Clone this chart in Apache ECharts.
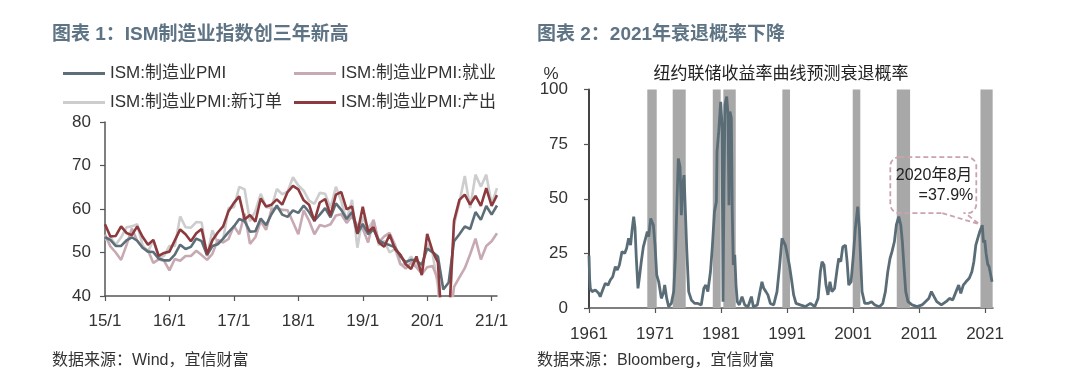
<!DOCTYPE html>
<html><head><meta charset="utf-8">
<script src="https://cdn.jsdelivr.net/npm/echarts@6/dist/echarts.min.js"></script>
<style>html,body{margin:0;padding:0;background:#fff}#c{width:1080px;height:383px}</style>
</head><body><div id="c"></div>
<script>
// ---------- Left chart: ISM manufacturing (monthly, 2015/1 - 2021/2) ----------
const ismMonths = [];
for (let y = 15; y <= 21; y++) for (let m = 1; m <= 12; m++) { if (y === 21 && m > 2) break; ismMonths.push(y + '/' + m); }
const pmi = [53.5,52.9,51.5,51.5,52.8,53.5,52.7,51.1,50.2,50.1,48.6,48.2,
  48.2,49.5,51.8,50.8,51.3,53.2,52.6,49.4,51.5,51.9,53.2,54.7,
  56.0,57.7,57.2,54.8,54.9,57.8,56.3,58.8,60.8,58.7,58.2,59.7,
  59.1,60.8,59.3,57.3,58.7,60.2,58.1,61.3,59.8,57.7,59.3,54.3,
  56.6,54.2,55.3,52.8,52.1,51.7,51.2,49.1,47.8,48.3,48.1,47.2,
  50.9,50.1,49.1,41.5,43.1,52.6,54.2,56.0,55.4,59.3,57.5,60.7,
  58.7,60.8];
const employment = [54.1,51.4,50.0,48.3,51.7,55.5,52.7,51.2,50.5,47.6,48.4,48.1,
  45.9,48.5,48.1,49.2,49.2,50.4,49.4,48.3,49.7,52.9,52.3,53.1,
  56.1,54.2,58.9,52.0,53.5,57.2,55.2,59.9,60.3,59.8,59.7,57.0,
  54.2,59.7,57.3,54.2,56.3,56.0,56.5,58.5,58.8,56.8,58.4,56.2,
  55.5,52.3,57.5,52.4,53.7,54.5,51.7,47.4,46.3,47.7,46.6,45.1,
  46.6,46.9,43.8,27.5,32.1,42.1,44.3,46.4,49.6,53.2,48.4,51.5,
  52.6,54.4];
const newOrders = [52.9,53.5,51.8,53.5,55.8,56.0,56.5,51.7,50.1,52.9,48.9,49.2,
  51.5,51.5,58.3,55.8,55.7,57.0,56.9,49.1,55.1,52.1,53.0,60.2,
  60.4,65.1,64.5,57.2,59.5,63.5,60.4,60.3,64.6,63.4,64.0,67.3,
  65.4,64.2,61.9,61.2,63.7,63.5,60.2,65.1,61.8,57.4,62.1,51.1,
  58.2,55.5,57.4,51.7,52.7,50.0,50.8,47.2,47.3,49.1,47.2,46.8,
  52.0,49.8,42.2,27.1,31.8,56.4,61.5,67.6,60.2,67.9,65.1,67.9,
  61.1,64.8];
const production = [56.5,53.7,53.8,56.0,54.5,54.0,56.0,53.6,51.8,52.9,49.2,49.9,
  50.2,52.8,55.3,54.2,52.6,54.4,55.4,49.6,52.8,54.6,56.0,59.5,
  61.4,62.9,57.6,58.6,57.1,62.4,60.6,61.0,62.2,61.0,63.9,65.3,
  64.5,62.0,61.0,57.2,61.5,62.3,58.5,63.3,63.9,59.9,60.6,54.3,
  60.5,54.8,55.8,52.3,51.3,54.1,50.8,49.5,47.3,46.2,49.1,44.8,
  54.3,50.3,47.7,27.5,33.2,57.3,62.1,63.3,61.0,63.0,60.7,64.8,
  60.7,63.2];
const ismNames = ['ISM:制造业PMI','ISM:制造业PMI:就业','ISM:制造业PMI:新订单','ISM:制造业PMI:产出'];

// ---------- Right chart: NY Fed recession probability ----------
const recYears = [1961.0,1961.1,1961.2,1961.45,1961.96,1962.47,1962.7,1963.07,1963.47,1963.88,1964.23,1964.59,1964.99,1965.29,1965.6,1966.0,1966.4,1966.7,1967.0,1967.3,1967.5,1967.77,1967.97,1968.17,1968.42,1968.62,1968.92,1969.23,1969.53,1969.84,1970.04,1970.35,1970.55,1970.75,1971.0,1971.26,1971.56,1971.96,1972.26,1972.47,1972.77,1973.07,1973.47,1973.83,1974.08,1974.33,1974.53,1974.79,1974.99,1975.2,1975.4,1975.6,1975.8,1976.1,1976.5,1977.0,1977.5,1978.0,1978.4,1978.7,1979.0,1979.4,1979.7,1980.0,1980.3,
  1980.39,1980.65,1980.95,1981.15,1981.3,1981.45,1981.6,1981.86,1982.06,1982.2,1982.36,1982.56,1982.7,1982.86,1983.08,1983.27,1983.47,1983.77,1984.18,1984.59,1985.09,1985.6,1985.9,1986.5,1986.9,1987.2,1987.47,1987.8,1988.1,1988.47,1988.98,1989.48,1989.89,1990.24,1990.5,1990.74,1991.05,1991.35,1991.65,1992.0,1992.36,1993.0,1993.77,1994.53,1995.2,1995.7,1996.05,1996.3,1996.6,1996.9,1997.2,1997.5,1997.8,1998.2,1998.6,1998.83,1999.14,1999.44,
  1999.6,1999.85,2000.1,2000.35,2000.7,2001.05,2001.35,2001.71,2001.96,2002.17,2002.36,2002.77,2003.27,2003.8,2004.3,2005.0,2005.5,2005.9,2006.26,2006.6,2006.9,2007.26,2007.56,2007.92,2008.23,2008.47,2008.73,2008.98,2009.33,2009.94,2010.7,2011.45,2011.96,2012.47,2012.87,2013.27,2013.68,2014.38,2015.09,2015.6,2016.1,2016.6,2017.0,2017.32,2017.7,2018.1,2018.6,2019.0,2019.3,2019.6,2019.9,2020.2,2020.58,2020.75,2020.95,2021.15,2021.4,2021.6,2021.8,2022.05];
const recProb = [24,13,9,7.5,8.2,6.7,5.2,8.2,11.3,10.5,12.8,14.3,18.9,17.4,19.7,25.8,25,27.3,31.9,28.8,35,41.8,36.5,22.7,9,13.6,21.2,28,28.8,35,32.7,41,41.8,38,28.8,15.1,12,4.4,6.7,10.5,4.4,0.6,2.1,7.5,22.7,48.6,68.4,64.6,42.5,56.3,60.8,44,27.3,7.5,3.7,2.1,2.1,1.4,9,10.5,7.5,16.6,28.8,44,48.6,
  71.5,80.7,94.4,84,2.9,56,93,96.8,88.4,47,89.9,86.9,44,19.7,24.3,10.5,2.9,1.4,5.2,1.4,0.6,5.2,0.6,1.4,7.5,12,9,7.5,6,2.1,1.4,7.5,19.7,31.9,32.7,28.8,24.3,19.7,13.6,6,2.1,1.4,0.6,2.1,0.6,4.4,16.6,21.2,19.7,10.5,6,12,7.5,9,18.1,22.7,21.2,28,
  27.3,28.8,21.2,10.5,12,24.3,36.5,46.4,36.5,21.2,7.5,2.1,2.1,2.9,1.4,0.6,2.1,7.5,16.6,22.7,25.8,30.3,38,41.8,38,30.3,18.1,7.5,2.9,1.4,0.6,1.4,2.9,4.4,7.5,5.2,2.9,1.4,2.9,4.4,3.7,7.5,10.5,6.7,10.5,12,13.6,16.6,21.2,28.8,32,35,37.9,30,31,25,20,19,16,12];
const recessions = [[1969.83,1971.26],[1973.68,1975.65],[1979.75,1980.95],[1981.35,1983.23],[1990.29,1991.45],[2000.95,2002.1],[2007.62,2009.64],[2020.3,2022.15]];
const recXTicks = [1961,1971,1981,1991,2001,2011,2021];
const peakPoint = [2020.58, 37.9];

const FF = "'Liberation Sans','Noto Sans CJK SC',sans-serif";
const C_PMI = '#5c6f79', C_EMP = '#c7a9b1', C_NEW = '#cdcdcd', C_PRO = '#8c3a3e';

const chart = echarts.init(document.getElementById('c'), null, {renderer: 'canvas'});
const legendBase = {orient: 'horizontal', icon: 'rect', itemWidth: 42, itemHeight: 3, padding: 0,
  textStyle: {fontFamily: FF, fontSize: 17, color: '#333'}, selectedMode: false};

const option = {
  animation: false,
  backgroundColor: '#fff',
  textStyle: {fontFamily: FF},
  title: [
    {text: '图表 1：ISM制造业指数创三年新高', left: 47, top: 20, textStyle: {fontFamily: FF, fontSize: 19, fontWeight: 'bold', color: '#5e7484'}},
    {text: '图表 2：2021年衰退概率下降', left: 532, top: 20, textStyle: {fontFamily: FF, fontSize: 19, fontWeight: 'bold', color: '#5e7484'}},
    {text: '纽约联储收益率曲线预测衰退概率', left: 776, textAlign: 'center', top: 61, textStyle: {fontFamily: FF, fontSize: 17, fontWeight: 'normal', color: '#222'}},
    {text: '%', left: 546, textAlign: 'center', top: 61, textStyle: {fontFamily: FF, fontSize: 17, fontWeight: 'normal', color: '#333'}},
    {text: '数据来源：Wind，宜信财富', left: 47, top: 348, textStyle: {fontFamily: FF, fontSize: 16, fontWeight: 'normal', color: '#333'}},
    {text: '数据来源：Bloomberg，宜信财富', left: 532, top: 348, textStyle: {fontFamily: FF, fontSize: 16, fontWeight: 'normal', color: '#333'}}
  ],
  legend: [
    Object.assign({}, legendBase, {data: [ismNames[0]], left: 63, top: 65}),
    Object.assign({}, legendBase, {data: [ismNames[1]], left: 294, top: 65}),
    Object.assign({}, legendBase, {data: [ismNames[2]], left: 63, top: 94}),
    Object.assign({}, legendBase, {data: [ismNames[3]], left: 294, top: 94})
  ],
  grid: [
    {left: 105, top: 122, width: 392, height: 174},
    {left: 589, top: 89.5, width: 404, height: 218.5}
  ],
  xAxis: [
    {gridIndex: 0, type: 'category', data: ismMonths, boundaryGap: false,
      axisLine: {lineStyle: {color: '#555', width: 1.5}},
      axisTick: {interval: (i) => i % 12 === 0, length: 5, lineStyle: {color: '#555', width: 1.2}},
      axisLabel: {interval: (i) => i % 12 === 0, fontSize: 17, color: '#333', margin: 17, fontFamily: FF}},
    {gridIndex: 1, type: 'value', min: 1961, max: 2022.2, splitLine: {show: false},
      axisLine: {onZero: false, lineStyle: {color: '#555', width: 1.5}},
      axisTick: {customValues: recXTicks, length: 5, lineStyle: {color: '#555', width: 1.2}},
      axisLabel: {customValues: recXTicks, fontSize: 17, color: '#333', margin: 18, fontFamily: FF, formatter: (v) => String(v)}}
  ],
  yAxis: [
    {gridIndex: 0, type: 'value', min: 40, max: 80, interval: 10, splitLine: {show: false},
      axisLine: {show: true, lineStyle: {color: '#555', width: 1.5}},
      axisTick: {show: true, length: 5, lineStyle: {color: '#555', width: 1.2}},
      axisLabel: {fontSize: 17, color: '#333', margin: 14, fontFamily: FF}},
    {gridIndex: 1, type: 'value', min: 0, max: 100, interval: 25, splitLine: {show: false},
      axisLine: {show: true, lineStyle: {color: '#444', width: 2}},
      axisTick: {show: true, length: 5, lineStyle: {color: '#555', width: 1.2}},
      axisLabel: {fontSize: 17, color: '#333', margin: 21, fontFamily: FF}}
  ],
  series: [
    {name: ismNames[2], type: 'line', xAxisIndex: 0, yAxisIndex: 0, data: newOrders, symbol: 'none', color: C_NEW, lineStyle: {width: 2.6, color: C_NEW}},
    {name: ismNames[1], type: 'line', xAxisIndex: 0, yAxisIndex: 0, data: employment, symbol: 'none', color: C_EMP, lineStyle: {width: 2.6, color: C_EMP}},
    {name: ismNames[0], type: 'line', xAxisIndex: 0, yAxisIndex: 0, data: pmi, symbol: 'none', color: C_PMI, lineStyle: {width: 2.6, color: C_PMI}},
    {name: ismNames[3], type: 'line', xAxisIndex: 0, yAxisIndex: 0, data: production, symbol: 'none', color: C_PRO, lineStyle: {width: 2.6, color: C_PRO}},
    {name: 'recession', type: 'line', xAxisIndex: 1, yAxisIndex: 1, data: [], z: 1, silent: true,
      markArea: {silent: true, itemStyle: {color: '#a8a8a8'},
        data: recessions.map(r => [{xAxis: r[0]}, {xAxis: r[1]}])}},
    {name: 'prob', type: 'line', xAxisIndex: 1, yAxisIndex: 1, z: 3, symbol: 'none',
      data: recYears.map((y, i) => [y, recProb[i]]),
      lineStyle: {width: 2.8, color: '#5a6d77'}}
  ]
};
chart.setOption(option);

// callout annotation anchored to the peak data point
const p = chart.convertToPixel({xAxisIndex: 1, yAxisIndex: 1}, peakPoint);
const L = p[0] - 92, T = p[1] - 68, W = 86, H = 56, R = L + W, B = T + H;
const a = L + 52, b = L + 75;
const tip = [p[0] - 3, p[1] - 1];
const dash = {stroke: '#c9a4ac', lineWidth: 1.8, lineDash: [5, 3], fill: 'none'};
chart.setOption({graphic: [
  {type: 'rect', shape: {x: L, y: T, width: W, height: H, r: 9}, style: Object.assign({}, dash), z: 10},
  {type: 'line', shape: {x1: a + 2, y1: B, x2: b - 2, y2: B}, style: {stroke: '#fff', lineWidth: 3}, z: 11},
  {type: 'polyline', shape: {points: [[a, B], tip, [b, B]]}, style: Object.assign({}, dash), z: 12},
  {type: 'text', x: R - 4, y: T + 18, style: {text: '2020年8月', fontSize: 16, fontFamily: FF, fill: '#222', align: 'right', verticalAlign: 'middle'}, z: 13},
  {type: 'text', x: R - 3, y: T + 38, style: {text: '=37.9%', fontSize: 16, fontFamily: FF, fill: '#222', align: 'right', verticalAlign: 'middle'}, z: 13}
]});
</script>
</body></html>
